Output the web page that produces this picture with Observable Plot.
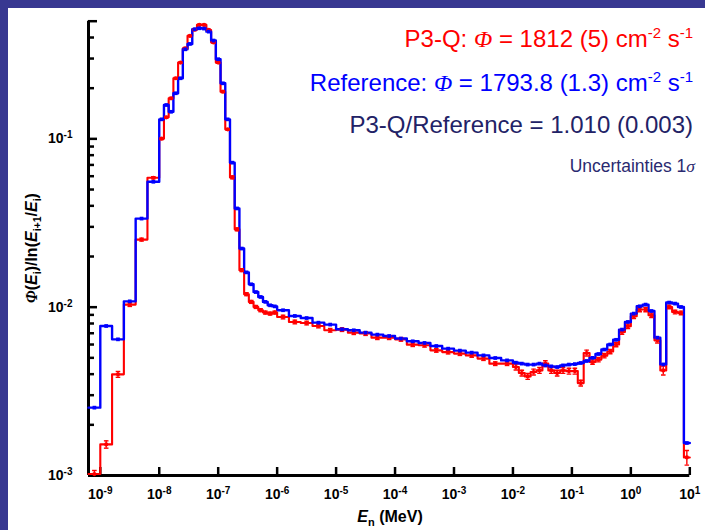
<!DOCTYPE html>
<html>
<head>
<meta charset="utf-8">
<script src="https://cdn.jsdelivr.net/npm/d3@7"></script>
<script src="https://cdn.jsdelivr.net/npm/@observablehq/plot@0.6"></script>
<style>
html, body { margin: 0; padding: 0; width: 705px; height: 530px; overflow: hidden; background: #383891; }
#panel { position: absolute; left: 8px; top: 8px; width: 697px; height: 522px; background: #ffffff; }
</style>
</head>
<body>
<div id="panel"></div>
<script>
// Bin edges, log10(E / MeV)
const binEdgesLog10 = [
  -9.2, -9.0, -8.8, -8.6, -8.4, -8.2, -8.0,
  -7.92, -7.84, -7.76, -7.68, -7.60, -7.52, -7.44, -7.36, -7.28, -7.20,
  -7.12, -7.04, -6.96, -6.88, -6.80, -6.72, -6.64, -6.56, -6.48, -6.40,
  -6.32, -6.24, -6.16, -6.08, -6.00,
  -5.8, -5.6, -5.4, -5.2, -5.0, -4.8, -4.6, -4.4, -4.2, -4.0,
  -3.8, -3.6, -3.4, -3.2, -3.0, -2.8, -2.6, -2.4, -2.2, -2.0,
  -1.9, -1.8, -1.7, -1.6, -1.5, -1.4, -1.3, -1.2, -1.1, -1.0,
  -0.9, -0.8, -0.7, -0.6, -0.5, -0.4, -0.3, -0.2, -0.1, 0.0,
  0.1, 0.2, 0.3, 0.4, 0.5, 0.6, 0.7, 0.8, 0.9, 1.0
];

// Reference spectrum (blue)
const referenceFlux = [
  0.00253, 0.00773, 0.00644, 0.01083, 0.0336, 0.0556,
  0.1306, 0.1589, 0.1448, 0.1866, 0.2291, 0.3404, 0.3664, 0.4478, 0.454, 0.452,
  0.4335, 0.3838, 0.2973, 0.2138, 0.1306, 0.0722, 0.0386, 0.0223, 0.0161, 0.01368,
  0.0123, 0.0115, 0.01075, 0.01026, 0.01011,
  0.00959, 0.00887, 0.00862, 0.00809, 0.00788, 0.00739, 0.00729, 0.00706, 0.00687, 0.00674,
  0.00651, 0.00627, 0.00613, 0.00588, 0.00567, 0.00552, 0.00537, 0.00517, 0.00499, 0.00483,
  0.00468, 0.00462, 0.00456, 0.00456, 0.00462, 0.00451, 0.00445, 0.00441, 0.00451, 0.00456,
  0.00459, 0.00466, 0.00479, 0.00500, 0.00527, 0.0056, 0.0060, 0.0064, 0.00736, 0.00817,
  0.00916, 0.01012, 0.01036, 0.00949, 0.00659, 0.00457, 0.01065, 0.0105, 0.01003, 0.00156
];

// P3-Q spectrum (red)
const p3qFlux = [
  0.00102, 0.00153, 0.00399, 0.01036, 0.0252, 0.0587,
  0.1002, 0.1343, 0.1742, 0.2291, 0.2838, 0.3452, 0.409, 0.445, 0.4754, 0.4754,
  0.4436, 0.374, 0.2838, 0.1906, 0.1139, 0.059, 0.029, 0.0166, 0.01194, 0.01075,
  0.01003, 0.00959, 0.00929, 0.00916, 0.00929,
  0.00874, 0.00817, 0.00805, 0.00773, 0.00729, 0.00736, 0.00706, 0.00697, 0.00659, 0.00659,
  0.00644, 0.00599, 0.00594, 0.00554, 0.00541, 0.0053, 0.00517, 0.00495, 0.00462, 0.00462,
  0.00441, 0.00406, 0.00388, 0.00412, 0.00421, 0.00462, 0.00421, 0.00406, 0.00421, 0.00417,
  0.00417, 0.00354, 0.00534, 0.00472, 0.00488, 0.00515, 0.00545, 0.0060, 0.00712, 0.0077,
  0.00883, 0.00968, 0.00968, 0.00895, 0.00635, 0.00421, 0.01003, 0.00936, 0.00924, 0.00128
];

// P3-Q relative 1-sigma uncertainties
const p3qRelUnc = [
  0.05, 0.05, 0.04, 0.025, 0.02, 0.015,
  0.01, 0.01, 0.01, 0.01, 0.01, 0.01, 0.01, 0.01, 0.01, 0.01,
  0.01, 0.01, 0.01, 0.01, 0.01, 0.02, 0.02, 0.02, 0.02, 0.02,
  0.02, 0.02, 0.02, 0.02, 0.02,
  0.025, 0.025, 0.025, 0.025, 0.025, 0.025, 0.025, 0.025, 0.025, 0.025,
  0.025, 0.025, 0.025, 0.025, 0.025, 0.025, 0.025, 0.025, 0.025, 0.025,
  0.04, 0.04, 0.04, 0.04, 0.04, 0.04, 0.04, 0.04, 0.04, 0.04,
  0.04, 0.04, 0.04, 0.03, 0.03, 0.03, 0.03, 0.03, 0.03, 0.03,
  0.03, 0.03, 0.03, 0.03, 0.035, 0.06, 0.025, 0.025, 0.025, 0.1
];

const xTickExponents = [-9, -8, -7, -6, -5, -4, -3, -2, -1, 0, 1];
const yMajorExponents = [-3, -2, -1];
const yMinorTicks = [
  0.002, 0.003, 0.004, 0.005, 0.006, 0.007, 0.008, 0.009,
  0.02, 0.03, 0.04, 0.05, 0.06, 0.07, 0.08, 0.09,
  0.2, 0.3, 0.4
];
const yTop = 0.5;
const yBottom = 0.001;

const RED = "#ff0000", BLUE = "#0000ff";

const bins = referenceFlux.map((v, i) => ({
  lo: 10 ** binEdgesLog10[i],
  hi: 10 ** binEdgesLog10[i + 1],
  mid: 10 ** ((binEdgesLog10[i] + binEdgesLog10[i + 1]) / 2),
  ref: v, p3q: p3qFlux[i], unc: p3qRelUnc[i]
}));
const last = bins[bins.length - 1];
const refSteps = [...bins.map(b => ({x: b.lo, y: b.ref})), {x: last.hi, y: last.ref}];
const p3qSteps = [...bins.map(b => ({x: b.lo, y: b.p3q})), {x: last.hi, y: last.p3q}];
const errBars = bins.map(b => ({x: b.mid, y1: b.p3q * (1 - b.unc), y2: b.p3q * (1 + b.unc)}));
const caps = errBars.flatMap(e => [{x: e.x, y: e.y1}, {x: e.x, y: e.y2}]);
const capSymbol = {draw(ctx) { ctx.moveTo(-2.3, 0); ctx.lineTo(2.3, 0); }};

const xTicks = xTickExponents.map(e => 10 ** e);
const yMajorTicks = yMajorExponents.map(e => 10 ** e);
const expLabel = d => `10^${Math.round(Math.log10(d))}`;

const plot = Plot.plot({
  width: 697, height: 522,
  marginLeft: 80, marginRight: 15.7, marginTop: 12.7, marginBottom: 55,
  style: {background: "white", fontFamily: "'Liberation Sans', Arial, sans-serif", color: "black"},
  x: {type: "log", domain: [bins[0].lo, last.hi]},
  y: {type: "log", domain: [yBottom, yTop]},
  marks: [
    Plot.axisY(yMinorTicks, {tickSize: -6, tickFormat: () => "", strokeWidth: 2.5, label: null}),
    Plot.axisY([...yMajorTicks, yTop], {tickSize: -9, tickFormat: () => "", strokeWidth: 2.5, label: null}),
    Plot.axisY(yMajorTicks, {tickSize: 0, tickPadding: 16, tickFormat: expLabel, fontSize: 14, fontWeight: "bold", label: null}),
    Plot.axisX(xTicks, {tickSize: -8, tickFormat: () => "", strokeWidth: 2.5, label: null}),
    Plot.axisX(xTicks, {tickSize: 0, tickPadding: 14, tickFormat: expLabel, fontSize: 14, fontWeight: "bold", label: null}),
    Plot.ruleX([bins[0].lo], {strokeWidth: 3, stroke: "black"}),
    Plot.ruleY([yBottom], {strokeWidth: 3, stroke: "black"}),
    Plot.line(p3qSteps, {x: "x", y: "y", curve: "step-after", stroke: RED, strokeWidth: 2.1}),
    Plot.line(refSteps, {x: "x", y: "y", curve: "step-after", stroke: BLUE, strokeWidth: 2.4}),
    Plot.ruleX(errBars, {x: "x", y1: "y1", y2: "y2", stroke: RED, strokeWidth: 1.4, clip: true}),
    Plot.dot(caps, {x: "x", y: "y", symbol: capSymbol, r: 2, stroke: RED, fill: "none", strokeWidth: 1.4, clip: true}),
    Plot.dot(bins, {x: "mid", y: "p3q", r: 2.1, fill: RED, symbol: "circle"}),
    Plot.dot(bins, {x: "mid", y: "ref", r: 2.1, fill: BLUE, symbol: "square"})
  ]
});
document.getElementById("panel").appendChild(plot);

const svg = d3.select(plot);
// exponents as superscripts in tick labels
svg.selectAll('g[aria-label$="tick label"] text').each(function () {
  const m = this.textContent.match(/^10\^(.+)$/);
  if (!m) return;
  this.textContent = "10";
  d3.select(this).append("tspan").attr("dy", -5).attr("font-size", 10).text(m[1]);
});

function rich(parent, x, y, parts, attrs) {
  const t = parent.append("text").attr("x", x).attr("y", y);
  for (const [k, v] of Object.entries(attrs)) t.attr(k, v);
  let shift = 0;
  for (const p of parts) {
    const target = p.sup ? -p.sup : p.sub ? p.sub : 0;
    const ts = t.append("tspan").text(p.t);
    if (target - shift !== 0) ts.attr("dy", target - shift);
    shift = target;
    if (p.size) ts.attr("font-size", p.size);
    if (p.italic) ts.attr("font-style", "italic");
    if (p.family) ts.attr("font-family", p.family);
    if (p.weight) ts.attr("font-weight", p.weight);
  }
  return t;
}
const SERIF = "'Liberation Serif', 'Times New Roman', serif";
const SANS = "'Liberation Sans', Arial, sans-serif";

rich(svg, 685, 39, [
  {t: "P3-Q: "}, {t: "Φ", italic: true, family: SERIF}, {t: " = 1812 (5) cm"},
  {t: "-2", sup: 9, size: 15}, {t: " s"}, {t: "-1", sup: 9, size: 15}
], {"text-anchor": "end", "font-size": 24, "font-family": SANS, fill: RED});
rich(svg, 685, 83, [
  {t: "Reference: "}, {t: "Φ", italic: true, family: SERIF}, {t: " = 1793.8 (1.3) cm"},
  {t: "-2", sup: 9, size: 15}, {t: " s"}, {t: "-1", sup: 9, size: 15}
], {"text-anchor": "end", "font-size": 24, "font-family": SANS, fill: BLUE});
rich(svg, 685, 125, [{t: "P3-Q/Reference = 1.010 (0.003)"}],
  {"text-anchor": "end", "font-size": 24, "font-family": SANS, fill: "#222266"});
rich(svg, 687, 164, [{t: "Uncertainties 1"}, {t: "σ", italic: true, family: SERIF}],
  {"text-anchor": "end", "font-size": 17.5, "font-family": SANS, fill: "#2a2a70"});

// axis titles
rich(svg, 29, 240, [
  {t: "Φ", italic: true, family: SERIF}, {t: "("}, {t: "E", italic: true}, {t: "i", sub: 4, size: 10.5},
  {t: ")/ln("}, {t: "E", italic: true}, {t: "i+1", sub: 4, size: 10.5}, {t: "/"},
  {t: "E", italic: true}, {t: "i", sub: 4, size: 10.5}, {t: ")"}
], {"text-anchor": "middle", "font-size": 16, "font-weight": "bold", "font-family": SANS, fill: "black",
    transform: "rotate(-90,29,240)"});
rich(svg, 382, 514, [
  {t: "E", italic: true}, {t: "n", sub: 4, size: 11}, {t: " (MeV)"}
], {"text-anchor": "middle", "font-size": 16, "font-weight": "bold", "font-family": SANS, fill: "black"});
</script>
</body>
</html>
